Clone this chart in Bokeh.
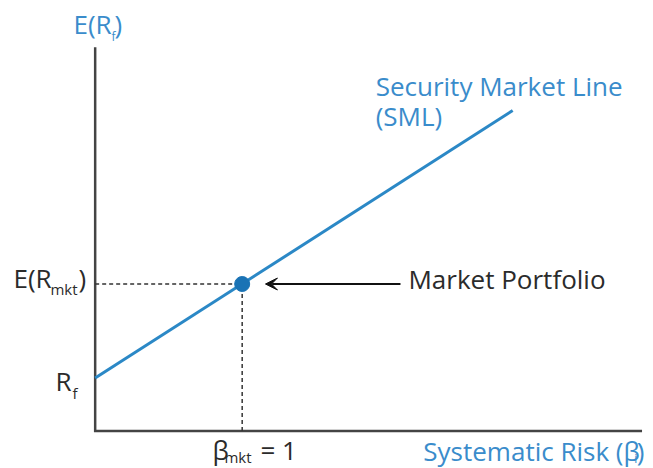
from bokeh.plotting import figure
from bokeh.models import Range1d, Arrow, VeeHead
from bokeh.core.properties import value
from bokeh.embed import file_html
from bokeh.resources import INLINE

# ---- data ----
beta_mkt = 1.0          # market beta
rf = 3.6                # risk-free rate
er_mkt = 10.0           # expected market return
sml_beta = [0.0, 2.84]  # SML drawn from beta 0 to ~2.84
sml_ret = [3.6, 21.8]
x_axis_max = 3.72       # extent of the beta axis
y_axis_max = 26.1       # extent of the return axis

BLUE = "#2b88c6"
DOT = "#1a73b5"
TXT_BLUE = "#3a8ccb"
DARK = "#2b2b2b"
AXIS = "#444444"
FONT = value("Open Sans")

W, H = 653, 468
X0, X1 = -0.644, 3.798
p = figure(width=W, height=H, output_backend="svg", toolbar_location=None,
           x_range=Range1d(X0, X1), y_range=Range1d(-2.551, 29.286),
           x_axis_type=None, y_axis_type=None, min_border=0)
p.grid.visible = False
p.outline_line_color = None
p.background_fill_color = "white"
p.border_fill_color = "white"

px_x = W / (X1 - X0)  # pixels per beta unit

# axes
p.line(x=[0, 0, x_axis_max], y=[y_axis_max, 0, 0], line_color=AXIS,
       line_width=2.5, line_join="miter")

# dashed guides
p.line(x=[0, beta_mkt], y=[er_mkt, er_mkt], line_color="#333333",
       line_width=1.5, line_dash="4 3")
p.line(x=[beta_mkt, beta_mkt], y=[0, er_mkt], line_color="#333333",
       line_width=1.5, line_dash="4 3")

# SML
p.line(x=sml_beta, y=sml_ret, line_color=BLUE, line_width=3)

# market portfolio point
p.scatter(x=[beta_mkt], y=[er_mkt], size=15, fill_color=DOT, line_color=DOT)

# arrow
p.add_layout(Arrow(end=VeeHead(size=12, fill_color="#111111", line_color="#111111"),
                   x_start=beta_mkt + 158.3 / px_x, y_start=er_mkt,
                   x_end=beta_mkt + 23.3 / px_x, y_end=er_mkt,
                   line_color="#111111", line_width=2))


def label(x, y, txt, dx, dy, size, color, align="left"):
    p.text(x=[x], y=[y], text=[txt], x_offset=dx, y_offset=dy - 0.37 * size,
           text_font=FONT, text_font_size=f"{size}px", text_color=color,
           text_align=align, text_baseline="alphabetic")


MAIN = 26
SUB = 15

# y-axis title E(Rf)
label(0, y_axis_max, "E(R", -21.7, -14, MAIN, TXT_BLUE)
label(0, y_axis_max, "f", 16.3, -6, 12, TXT_BLUE)
label(0, y_axis_max, ")", 19.3, -14, MAIN, TXT_BLUE)

# E(Rmkt)
label(0, er_mkt, "E(R", -81.7, 3.7, MAIN, DARK)
label(0, er_mkt, "mkt", -44.7, 10.7, SUB, DARK)
label(0, er_mkt, ")", -16.7, 3.7, MAIN, DARK)

# Rf
label(0, rf, "R", -39.7, 12.2, MAIN, DARK)
label(0, rf, "f", -22.7, 20, SUB, DARK)

# beta_mkt = 1
label(beta_mkt, 0, "β", -29.7, 28.5, MAIN, DARK)
label(beta_mkt, 0, "mkt", -17.7, 32, SUB, DARK)
label(beta_mkt, 0, "= 1", 18.3, 28.5, MAIN, DARK)

# x-axis title
label(x_axis_max, 0, "Systematic Risk (β", -218.7, 29.5, MAIN, TXT_BLUE)
label(x_axis_max, 0, "i", -7.7, 32, 12, TXT_BLUE)
label(x_axis_max, 0, ")", 2.3, 29.5, MAIN, TXT_BLUE, align="right")

# SML label
label(sml_beta[1], sml_ret[1], "Security Market Line", -137, -15.3, MAIN, TXT_BLUE)
label(sml_beta[1], sml_ret[1], "(SML)", -137, 14.7, MAIN, TXT_BLUE)

# Market Portfolio label
label(beta_mkt, er_mkt, "Market Portfolio", 166.3, 4.7, MAIN, DARK)

open("out.html", "w").write(file_html(p, INLINE))
